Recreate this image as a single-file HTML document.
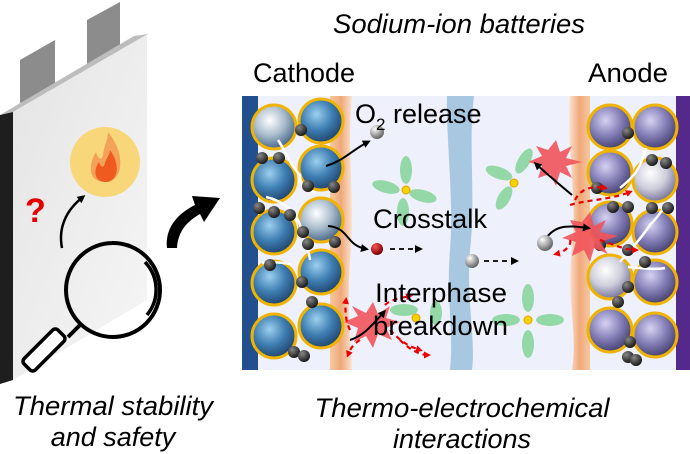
<!DOCTYPE html>
<html><head><meta charset="utf-8"><style>
html,body{margin:0;padding:0;background:#fff;width:690px;height:454px;overflow:hidden}
svg{display:block}
text{font-family:"Liberation Sans",Arial,sans-serif;fill:#000}
</style></head><body>
<svg width="690" height="454" viewBox="0 0 690 454" xmlns="http://www.w3.org/2000/svg">
<defs>
<radialGradient id="cb" cx="0.4" cy="0.35" r="0.7"><stop offset="0" stop-color="#9cd0ee"/><stop offset="0.5" stop-color="#3f7fb3"/><stop offset="1" stop-color="#1c3e66"/></radialGradient>
<radialGradient id="cw" cx="0.4" cy="0.35" r="0.7"><stop offset="0" stop-color="#ffffff"/><stop offset="0.5" stop-color="#a9bccc"/><stop offset="1" stop-color="#3a5c80"/></radialGradient>
<radialGradient id="ap" cx="0.4" cy="0.35" r="0.7"><stop offset="0" stop-color="#d6d2f2"/><stop offset="0.5" stop-color="#8581b8"/><stop offset="1" stop-color="#3d3868"/></radialGradient>
<radialGradient id="aw" cx="0.4" cy="0.35" r="0.7"><stop offset="0" stop-color="#ffffff"/><stop offset="0.5" stop-color="#cfcfdc"/><stop offset="1" stop-color="#6a6890"/></radialGradient>
<radialGradient id="bk" cx="0.35" cy="0.3" r="0.7"><stop offset="0" stop-color="#888"/><stop offset="1" stop-color="#1a1a1a"/></radialGradient>
<radialGradient id="gr" cx="0.35" cy="0.3" r="0.7"><stop offset="0" stop-color="#fff"/><stop offset="1" stop-color="#666"/></radialGradient>
<radialGradient id="rd" cx="0.35" cy="0.3" r="0.7"><stop offset="0" stop-color="#f55"/><stop offset="1" stop-color="#700"/></radialGradient>
<linearGradient id="pouch" x1="0" y1="0" x2="1" y2="1"><stop offset="0" stop-color="#e4e4e4"/><stop offset="1" stop-color="#f6f6f6"/></linearGradient>
<linearGradient id="or" x1="0" x2="1"><stop offset="0" stop-color="#f6c9a3"/><stop offset="0.5" stop-color="#f0a878"/><stop offset="1" stop-color="#fbe3d0"/></linearGradient>
<linearGradient id="or2" x1="1" x2="0"><stop offset="0" stop-color="#f6c9a3"/><stop offset="0.5" stop-color="#f0a878"/><stop offset="1" stop-color="#fbe3d0"/></linearGradient>
<marker id="ah" markerUnits="userSpaceOnUse" markerWidth="8" markerHeight="8" refX="5" refY="4" orient="auto"><path d="M0,0 L8,4 L0,8 z" fill="#000"/></marker>
<marker id="ahr" markerUnits="userSpaceOnUse" markerWidth="7" markerHeight="7" refX="4" refY="3.5" orient="auto"><path d="M0,0 L7,3.5 L0,7 z" fill="#e00"/></marker>
</defs>

<!-- pouch -->
<polygon points="20,105 55,85 55,40 20,60" fill="#8c8c8c"/>
<polygon points="87,68 120,50 120,2 87,20" fill="#8c8c8c"/>
<polygon points="0,115 134,36 148,34 13,112" fill="#bdbdbd"/>
<polygon points="0,115 13,112 13,380 0,384" fill="#1e1e1e"/>
<polygon points="13,112 147,35 147,300 13,380" fill="url(#pouch)"/>
<circle cx="105" cy="162" r="35" fill="#f7d77a"/>
<path d="M105,182 C88,182 88,165 96,152 C98,160 102,160 103,155 C104,145 108,140 108,132 C116,142 122,155 120,168 C118,178 112,182 105,182z" fill="#f4a15a"/>
<path d="M106,182 C94,182 93,170 99,162 C101,168 104,168 105,163 C107,157 110,154 110,150 C116,158 118,168 116,174 C114,180 110,182 106,182z" fill="#ef5a1e"/>
<text x="25" y="222" font-size="34" font-weight="bold" style="fill:#e60000">?</text>
<path d="M62,248 C58,228 66,210 83,197" fill="none" stroke="#000" stroke-width="2.5" marker-end="url(#ah)"/>
<circle cx="113" cy="290" r="47" fill="none" stroke="#000" stroke-width="4"/>
<path d="M145,262 A40,40 0 0 1 147,315" fill="none" stroke="#000" stroke-width="3.5"/>
<line x1="80" y1="325" x2="68" y2="337" stroke="#000" stroke-width="4"/>
<rect x="36" y="326" width="16" height="48" rx="4" transform="rotate(45 44 350)" fill="#fff" stroke="#000" stroke-width="3.5"/>
<path d="M167,248 C165,230 175,215 195,205 L192,196 L220,198 L204,222 L200,214 C186,222 178,232 177,248 z" fill="#000"/>
<text x="113" y="415" font-size="27" font-style="italic" text-anchor="middle" textLength="200" lengthAdjust="spacingAndGlyphs">Thermal stability</text>
<text x="113" y="446" font-size="27" font-style="italic" text-anchor="middle">and safety</text>

<!-- right header -->
<text x="459" y="33" font-size="27" font-style="italic" text-anchor="middle" textLength="252" lengthAdjust="spacingAndGlyphs">Sodium-ion batteries</text>
<text x="253" y="82" font-size="27" textLength="102" lengthAdjust="spacingAndGlyphs">Cathode</text>
<text x="588" y="82" font-size="27" textLength="80" lengthAdjust="spacingAndGlyphs">Anode</text>
<text x="462" y="417" font-size="27" font-style="italic" text-anchor="middle" textLength="295" lengthAdjust="spacingAndGlyphs">Thermo-electrochemical</text>
<text x="462" y="448" font-size="27" font-style="italic" text-anchor="middle">interactions</text>

<!-- panel -->
<rect x="242" y="96" width="448" height="274" fill="#eef0fb"/>
<rect x="242" y="96" width="16" height="274" fill="#22508f"/>
<rect x="676" y="96" width="14" height="274" fill="#55288c"/>
<path d="M330,96 L352,96 C346,150 356,200 350,260 C346,320 352,350 352,370 L330,370 z" fill="url(#or)"/>
<path d="M570,96 L590,96 L590,370 L572,370 C578,330 566,300 572,250 C578,200 566,150 570,96z" fill="url(#or2)"/>
<path d="M447,96 L474,96 C468,140 476,200 470,250 C466,300 476,340 472,370 L450,370 C454,330 446,300 450,250 C454,200 446,140 447,96z" fill="#a8c8e2"/>

<!-- cathode spheres -->
<g stroke="#f0b400" stroke-width="3">
<circle cx="274" cy="127" r="22" fill="url(#cw)"/>
<circle cx="321" cy="121" r="22" fill="url(#cb)"/>
<circle cx="274" cy="180" r="22" fill="url(#cb)"/>
<circle cx="321" cy="168" r="22" fill="url(#cb)"/>
<circle cx="274" cy="232" r="22" fill="url(#cb)"/>
<circle cx="321" cy="220" r="22" fill="url(#cw)"/>
<circle cx="274" cy="283" r="22" fill="url(#cb)"/>
<circle cx="321" cy="272" r="22" fill="url(#cb)"/>
<circle cx="274" cy="336" r="22" fill="url(#cb)"/>
<circle cx="321" cy="326" r="22" fill="url(#cb)"/>
</g>
<!-- anode spheres -->
<g stroke="#f0b400" stroke-width="3">
<circle cx="610" cy="127" r="22" fill="url(#ap)"/>
<circle cx="655" cy="127" r="22" fill="url(#ap)"/>
<circle cx="610" cy="173" r="22" fill="url(#ap)"/>
<circle cx="655" cy="180" r="22" fill="url(#aw)"/>
<circle cx="610" cy="224" r="22" fill="url(#ap)"/>
<circle cx="655" cy="232" r="22" fill="url(#ap)"/>
<circle cx="610" cy="277" r="22" fill="url(#aw)"/>
<circle cx="655" cy="282" r="22" fill="url(#ap)"/>
<circle cx="610" cy="330" r="22" fill="url(#ap)"/>
<circle cx="655" cy="335" r="22" fill="url(#ap)"/>
</g>
<g fill="none" stroke="#fff" stroke-width="2.5">
<path d="M278,140 C285,150 290,165 300,175 C300,185 305,190 315,192"/>
<path d="M266,197 C280,200 295,210 300,225 C305,240 310,255 310,260"/>
<path d="M262,263 C272,262 285,262 292,265"/>
<path d="M620,188 C630,180 640,172 646,148"/>
<path d="M620,262 C630,250 640,240 650,225 C660,215 665,205 670,200"/>
<path d="M628,267 C640,268 655,270 665,268"/>
</g>
<g fill="url(#bk)">
<circle cx="301" cy="130" r="6"/><circle cx="262" cy="158" r="6"/><circle cx="279" cy="158" r="6"/>
<circle cx="308" cy="186" r="6"/><circle cx="334" cy="187" r="6"/><circle cx="259" cy="208" r="6"/>
<circle cx="274" cy="212" r="6"/><circle cx="290" cy="215" r="6"/><circle cx="303" cy="232" r="6"/>
<circle cx="308" cy="244" r="6"/><circle cx="335" cy="242" r="6"/><circle cx="270" cy="265" r="6"/>
<circle cx="302" cy="282" r="6"/><circle cx="312" cy="302" r="6"/><circle cx="294" cy="352" r="6"/><circle cx="304" cy="356" r="6"/>
<circle cx="628" cy="133" r="6"/><circle cx="652" cy="160" r="6"/><circle cx="666" cy="163" r="6"/>
<circle cx="597" cy="188" r="6"/><circle cx="613" cy="207" r="6"/><circle cx="628" cy="207" r="6"/>
<circle cx="652" cy="208" r="6"/><circle cx="668" cy="208" r="6"/><circle cx="600" cy="245" r="6"/>
<circle cx="628" cy="250" r="6"/><circle cx="645" cy="262" r="6"/><circle cx="628" cy="287" r="6"/>
<circle cx="618" cy="302" r="6"/><circle cx="630" cy="342" r="6"/><circle cx="628" cy="357" r="6"/><circle cx="636" cy="360" r="6"/>
</g>

<g fill="#86d49a" opacity="0.85">
<g transform="translate(406,190)"><ellipse cx="0" cy="-20" rx="6" ry="14"/><ellipse cx="-20" cy="-3" rx="14" ry="6" transform="rotate(15 -20 -3)"/><ellipse cx="17" cy="6" rx="14" ry="6" transform="rotate(15 17 6)"/><ellipse cx="-3" cy="22" rx="6" ry="14"/></g>
<g transform="translate(514,183)"><ellipse cx="10" cy="-22" rx="6" ry="14" transform="rotate(30 10 -22)"/><ellipse cx="-15" cy="-10" rx="14" ry="6" transform="rotate(20 -15 -10)"/><ellipse cx="-10" cy="15" rx="6" ry="13" transform="rotate(30 -10 15)"/></g>
<g transform="translate(528,320)"><ellipse cx="0" cy="-22" rx="6" ry="14"/><ellipse cx="-22" cy="0" rx="14" ry="6"/><ellipse cx="22" cy="0" rx="14" ry="6"/><ellipse cx="0" cy="24" rx="6" ry="14"/></g>
<g transform="translate(416,318)"><ellipse cx="-12" cy="-8" rx="14" ry="6"/><ellipse cx="20" cy="-5" rx="6" ry="12"/></g>
</g>
<g fill="#f5d400" stroke="#e0a000" stroke-width="1">
<circle cx="406" cy="190" r="4"/><circle cx="514" cy="183" r="4"/><circle cx="528" cy="320" r="4"/><circle cx="416" cy="318" r="4"/>
</g>

<g fill="#f2545b" opacity="0.9">
<polygon points="548,150 556,140 560,152 572,146 566,158 582,162 566,166 572,178 560,172 556,186 550,174 538,178 542,166 528,162 542,156 536,146"/>
<polygon points="582,222 590,212 594,226 606,220 600,232 618,236 600,242 608,254 594,248 590,262 584,250 572,256 576,242 562,238 576,232 570,220"/>
<polygon points="366,313 373,302 378,314 390,306 386,318 400,322 386,328 392,340 378,334 373,348 366,336 354,342 358,328 344,322 358,316 352,306"/>
</g>

<g fill="none" stroke="#000" stroke-width="2">
<path d="M326,166 C345,160 352,150 368,142" marker-end="url(#ah)"/>
<path d="M328,226 C350,228 345,245 366,249" marker-end="url(#ah)"/>
<path d="M572,195 C560,185 548,175 536,164" marker-end="url(#ah)"/>
<path d="M543,243 C553,225 565,225 588,228" marker-end="url(#ah)"/>
<path d="M350,340 C362,336 368,330 384,312" marker-end="url(#ah)"/>
</g>
<g fill="none" stroke="#000" stroke-width="1.8" stroke-dasharray="5,4">
<path d="M390,249 L420,249" marker-end="url(#ah)"/>
<path d="M484,261 L516,261" marker-end="url(#ah)"/>
</g>
<g fill="none" stroke="#e80000" stroke-width="2.2" stroke-dasharray="5,4">
<path d="M575,200 C580,190 590,185 605,188" marker-end="url(#ahr)"/>
<path d="M570,205 C585,200 610,200 630,192" marker-end="url(#ahr)"/>
<path d="M570,240 C572,245 565,252 556,254" marker-end="url(#ahr)"/>
<path d="M600,240 C615,245 625,250 636,250" marker-end="url(#ahr)"/>
<path d="M350,330 C345,320 345,308 346,300" marker-end="url(#ahr)"/>
<path d="M360,340 C352,345 350,350 348,355" marker-end="url(#ahr)"/>
<path d="M390,330 C400,340 405,345 420,350" marker-end="url(#ahr)"/>
<path d="M385,305 C390,300 400,298 410,296" marker-end="url(#ahr)"/>
<path d="M400,340 C410,350 420,355 428,355" marker-end="url(#ahr)"/>
</g>

<circle cx="377" cy="132" r="7" fill="url(#gr)"/>
<circle cx="377" cy="249" r="6" fill="url(#rd)"/>
<circle cx="472" cy="261" r="7" fill="url(#gr)"/>
<circle cx="545" cy="243" r="8" fill="url(#gr)"/>

<text x="355" y="123" font-size="27">O<tspan font-size="17" dy="7">2</tspan><tspan dy="-7" textLength="96" lengthAdjust="spacingAndGlyphs"> release</tspan></text>
<text x="373" y="228" font-size="27" textLength="114" lengthAdjust="spacingAndGlyphs">Crosstalk</text>
<text x="375" y="302" font-size="27" textLength="132" lengthAdjust="spacingAndGlyphs">Interphase</text>
<text x="373" y="335" font-size="27" textLength="135" lengthAdjust="spacingAndGlyphs">breakdown</text>
</svg>
</body></html>
